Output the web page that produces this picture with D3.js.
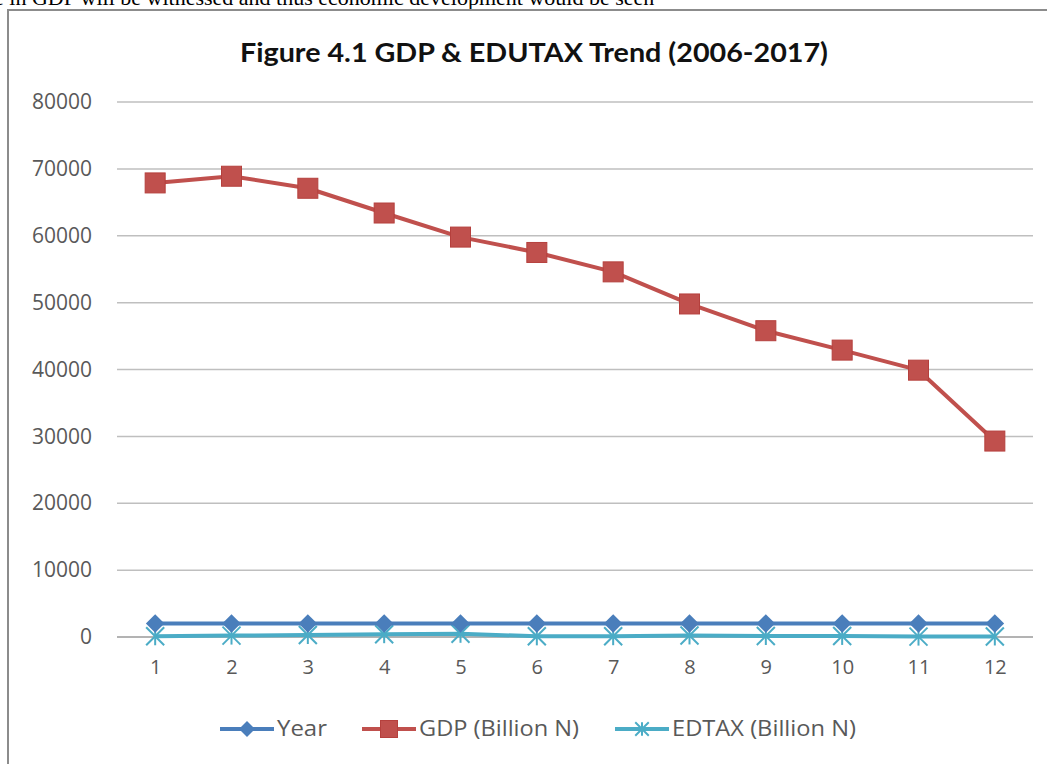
<!DOCTYPE html>
<html>
<head>
<meta charset="utf-8">
<script src="https://cdn.jsdelivr.net/npm/d3@7"></script>
<style>
    body { margin: 0; background: #fff; }
    #chart { width: 1047px; height: 764px; overflow: hidden; }
</style>
</head>
<body>
<div id="chart"></div>
<script>
// Data
const categories = [1, 2, 3, 4, 5, 6, 7, 8, 9, 10, 11, 12];
const yearValues = [2006, 2007, 2008, 2009, 2010, 2011, 2012, 2013, 2014, 2015, 2016, 2017];
const gdpValues = [67900, 68900, 67100, 63400, 59800, 57500, 54600, 49800, 45800, 42900, 39900, 29300];
const edtaxValues = [110, 210, 300, 420, 480, 100, 120, 230, 150, 160, 60, 80];
const yTicks = [0, 10000, 20000, 30000, 40000, 50000, 60000, 70000, 80000];
const seriesNames = ["Year", "GDP (Billion N)", "EDTAX (Billion N)"];

const seriesColors = {
    "Year": "#4a7ebb",
    "GDP (Billion N)": "#c0504d",
    "EDTAX (Billion N)": "#4bacc6"
};

const width = 1047;
const height = 764;
const labelColor = "#595959";

const svg = d3.select("#chart")
    .append("svg")
    .attr("width", width)
    .attr("height", height);

// Clipped sentence from the surrounding document
svg.append("text")
    .attr("x", -6)
    .attr("y", 5)
    .attr("font-family", "Liberation Serif, serif")
    .attr("font-size", 22)
    .attr("fill", "#000")
    .text("e in GDP will be witnessed and thus economic development would be seen");

// Chart frame
svg.append("rect")
    .attr("x", 8)
    .attr("y", 10)
    .attr("width", 1060)
    .attr("height", 800)
    .attr("fill", "#fff")
    .attr("stroke", "#8c8c8c")
    .attr("stroke-width", 2);

// Title
svg.append("text")
    .attr("x", 534)
    .attr("y", 62)
    .attr("text-anchor", "middle")
    .attr("font-family", "Lato, sans-serif")
    .attr("font-weight", "bold")
    .attr("font-size", 27)
    .attr("fill", "#111")
    .attr("textLength", 588)
    .attr("lengthAdjust", "spacingAndGlyphs")
    .text("Figure 4.1 GDP & EDUTAX Trend (2006-2017)");

// Scales
const x = d3.scalePoint()
    .domain(categories)
    .range([117, 1033])
    .padding(0.5);

const y = d3.scaleLinear()
    .domain([0, 80000])
    .range([637, 102]);

// Gridlines
svg.append("g")
    .selectAll("line")
    .data(yTicks)
    .join("line")
    .attr("x1", 117)
    .attr("x2", 1033)
    .attr("y1", d => y(d))
    .attr("y2", d => y(d))
    .attr("stroke", d => d === 0 ? "#9a9a9a" : "#bfbfbf")
    .attr("stroke-width", 1.5);

// Y axis labels
const yAxis = d3.axisLeft(y).tickValues(yTicks).tickFormat(d3.format("d")).tickSize(0).tickPadding(0);
const yg = svg.append("g")
    .attr("transform", "translate(92,0)")
    .call(yAxis);
yg.select(".domain").remove();
yg.selectAll("text")
    .attr("font-family", "Open Sans, sans-serif")
    .attr("font-size", 21)
    .attr("fill", labelColor);

// X axis labels
const xAxis = d3.axisBottom(x).tickSize(0).tickPadding(0);
const xg = svg.append("g")
    .attr("transform", "translate(0,660)")
    .call(xAxis);
xg.select(".domain").remove();
xg.selectAll("text")
    .attr("font-family", "Open Sans, sans-serif")
    .attr("font-size", 20)
    .attr("fill", labelColor);

// Series
const series = [
    { name: "Year", values: yearValues, marker: "diamond" },
    { name: "GDP (Billion N)", values: gdpValues, marker: "square" },
    { name: "EDTAX (Billion N)", values: edtaxValues, marker: "asterisk" }
];

const line = d3.line()
    .x((d, i) => x(categories[i]))
    .y(d => y(d));

function drawMarker(g, type, color, cx, cy, scale) {
    const s = scale || 1;
    if (type === "diamond") {
        g.append("path")
            .attr("d", d3.symbol().type(d3.symbolDiamond2).size(220 * s)())
            .attr("transform", `translate(${cx},${cy})`)
            .attr("fill", color);
    } else if (type === "square") {
        const a = 20 * s;
        g.append("rect")
            .attr("x", cx - a / 2)
            .attr("y", cy - a / 2)
            .attr("width", a)
            .attr("height", a)
            .attr("fill", color)
            .attr("stroke", "#b5403d")
            .attr("stroke-width", 1);
    } else {
        const r = 9 * s;
        const star = g.append("g")
            .attr("transform", `translate(${cx},${cy})`)
            .attr("stroke", color)
            .attr("stroke-width", 2);
        [[-r, -r, r, r], [-r, r, r, -r], [0, -r, 0, r]].forEach(p => {
            star.append("line")
                .attr("x1", p[0]).attr("y1", p[1])
                .attr("x2", p[2]).attr("y2", p[3]);
        });
    }
}

// draw in reverse so Year sits on top of EDTAX like the reference
const order = [series[2], series[1], series[0]];
order.forEach(s => {
    const g = svg.append("g");
    g.append("path")
        .datum(s.values)
        .attr("d", line)
        .attr("fill", "none")
        .attr("stroke", seriesColors[s.name])
        .attr("stroke-width", 4)
        .attr("stroke-linejoin", "round");
    s.values.forEach((v, i) => {
        drawMarker(g, s.marker, seriesColors[s.name], x(categories[i]), y(v));
    });
});

// Legend
const legendItems = [
    { name: seriesNames[0], marker: "diamond", x: 220, w: 50 },
    { name: seriesNames[1], marker: "square", x: 362, w: 160 },
    { name: seriesNames[2], marker: "asterisk", x: 615, w: 184 }
];
legendItems.forEach(item => {
    const g = svg.append("g");
    const color = seriesColors[item.name];
    g.append("line")
        .attr("x1", item.x)
        .attr("x2", item.x + 54)
        .attr("y1", 729)
        .attr("y2", 729)
        .attr("stroke", color)
        .attr("stroke-width", 4);
    drawMarker(g, item.marker, color, item.x + 27, 729, item.marker === "square" ? 0.85 : 0.75);
    g.append("text")
        .attr("x", item.x + 57)
        .attr("y", 729)
        .attr("dy", "0.35em")
        .attr("font-family", "Open Sans, sans-serif")
        .attr("font-size", 21)
        .attr("fill", labelColor)
        .attr("textLength", item.w)
        .attr("lengthAdjust", "spacingAndGlyphs")
        .text(item.name);
});
</script>
</body>
</html>
